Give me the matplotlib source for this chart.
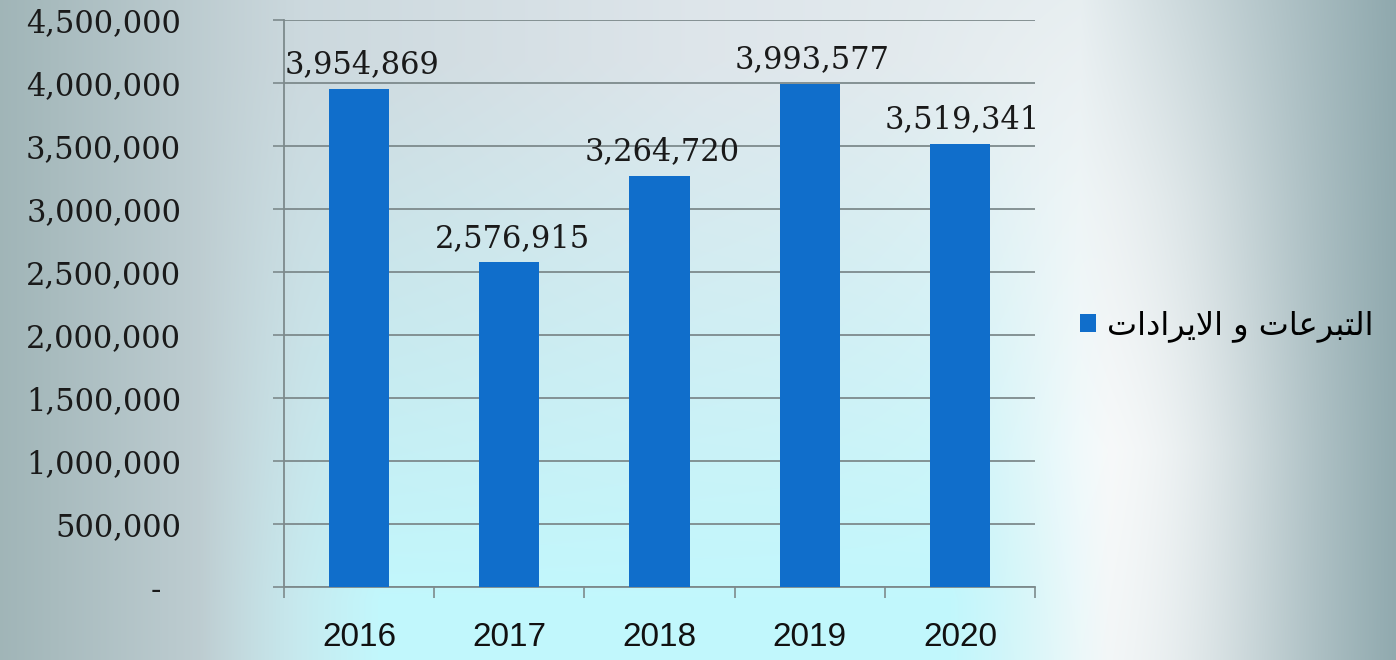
import matplotlib
matplotlib.use("Agg")
import matplotlib.pyplot as plt
import numpy as np
from matplotlib import font_manager

years = ["2016", "2017", "2018", "2019", "2020"]
values = [3954869, 2576915, 3264720, 3993577, 3519341]
y_ticks = [0, 500000, 1000000, 1500000, 2000000, 2500000, 3000000, 3500000, 4000000, 4500000]
y_tick_labels = ["-  ", "500,000", "1,000,000", "1,500,000", "2,000,000", "2,500,000",
                 "3,000,000", "3,500,000", "4,000,000", "4,500,000"]
# "التبرعات و الايرادات" written in presentation forms, in visual order
legend_label = ("\uFE95\uFE8D\uFEA9\uFE8D\uFEAE\uFEF3\uFEFB\uFE8D"
                " \uFEED "
                "\uFE95\uFE8E\uFECB\uFEAE\uFE92\uFE98\uFEDF\uFE8D")

W, H = 1396, 660
fig = plt.figure(figsize=(W / 100, H / 100), dpi=100)

# background gradient
xs = np.arange(W)
ys = np.arange(H)
stops = [0, 300, 700, 1080, 1396]
base = np.zeros((H, W, 3))
for c, cols in enumerate([[0.63, 0.80, 0.87, 0.90, 0.56],
                          [0.71, 0.85, 0.90, 0.93, 0.66],
                          [0.72, 0.87, 0.92, 0.94, 0.68]]):
    base[:, :, c] = np.interp(xs, stops, cols)[None, :]
# soft white glow right of the plot, stronger lower down
gx = np.exp(-((xs - 1110) / 150.0) ** 2)
gy = np.interp(ys, [0, 200, 450, 660], [0.1, 0.6, 1.0, 0.85])
g = (gy[:, None] * gx[None, :])[:, :, None] * 0.75
base = base * (1 - g) + g
cyan = np.array([0.76, 0.97, 0.99])
wx = np.interp(xs, [200, 380, 950, 1110], [0, 1, 1, 0])
wy = np.interp(ys, [0, 60, 600, 660], [0, 0, 1, 1])
w = (wy[:, None] * wx[None, :])[:, :, None]
bg = base * (1 - w) + cyan * w
bg_ax = fig.add_axes([0, 0, 1, 1])
bg_ax.imshow(bg, aspect="auto", extent=[0, 1, 0, 1], origin="upper")
bg_ax.axis("off")

ax = fig.add_axes([284 / W, 73 / H, 751 / W, 567 / H])
ax.patch.set_alpha(0)

x = np.arange(len(years))
bars = ax.bar(x, values, width=0.4, color="#106ecb", zorder=3, label=legend_label)

ax.set_xlim(-0.5, len(years) - 0.5)
ax.set_ylim(0, 4500000)
ax.set_yticks(y_ticks)
ax.set_yticklabels(y_tick_labels, fontfamily="DejaVu Serif", fontsize=22, color="#1a1a1a")
ax.grid(axis="y", color="#7d8a8c", linewidth=1.3, zorder=1)

names = [f.name for f in font_manager.fontManager.ttflist]
xfont = "Liberation Sans Narrow" if "Liberation Sans Narrow" in names else "Liberation Sans"
ax.set_xticks(x)
ax.set_xticklabels(years, fontfamily=xfont, fontsize=24, color="#111111")
ax.set_xticks(np.arange(len(years) + 1) - 0.5, minor=True)
ax.tick_params(axis="x", which="major", length=0, pad=25)
ax.tick_params(axis="x", which="minor", length=8, width=1.2, color="#7d8a8c", direction="out")
ax.tick_params(axis="y", length=8, width=1.2, color="#7d8a8c", pad=66)

for s in ["top", "right"]:
    ax.spines[s].set_visible(False)
for s in ["left", "bottom"]:
    ax.spines[s].set_color("#7d8a8c")
    ax.spines[s].set_linewidth(1.3)

for xi, v in zip(x, values):
    ax.annotate(f"{v:,}", (xi, v), xytext=(2, 6), textcoords="offset points",
                ha="center", va="bottom", fontfamily="DejaVu Serif", fontsize=22,
                color="#1a1a1a", zorder=4)

leg = ax.legend(loc="center left", bbox_to_anchor=(1.022, 0.46), frameon=False,
                handlelength=0.5, handleheight=0.5, handletextpad=0.35,
                prop={"family": "DejaVu Sans", "size": 23})

fig.savefig("out.png", dpi=100)
